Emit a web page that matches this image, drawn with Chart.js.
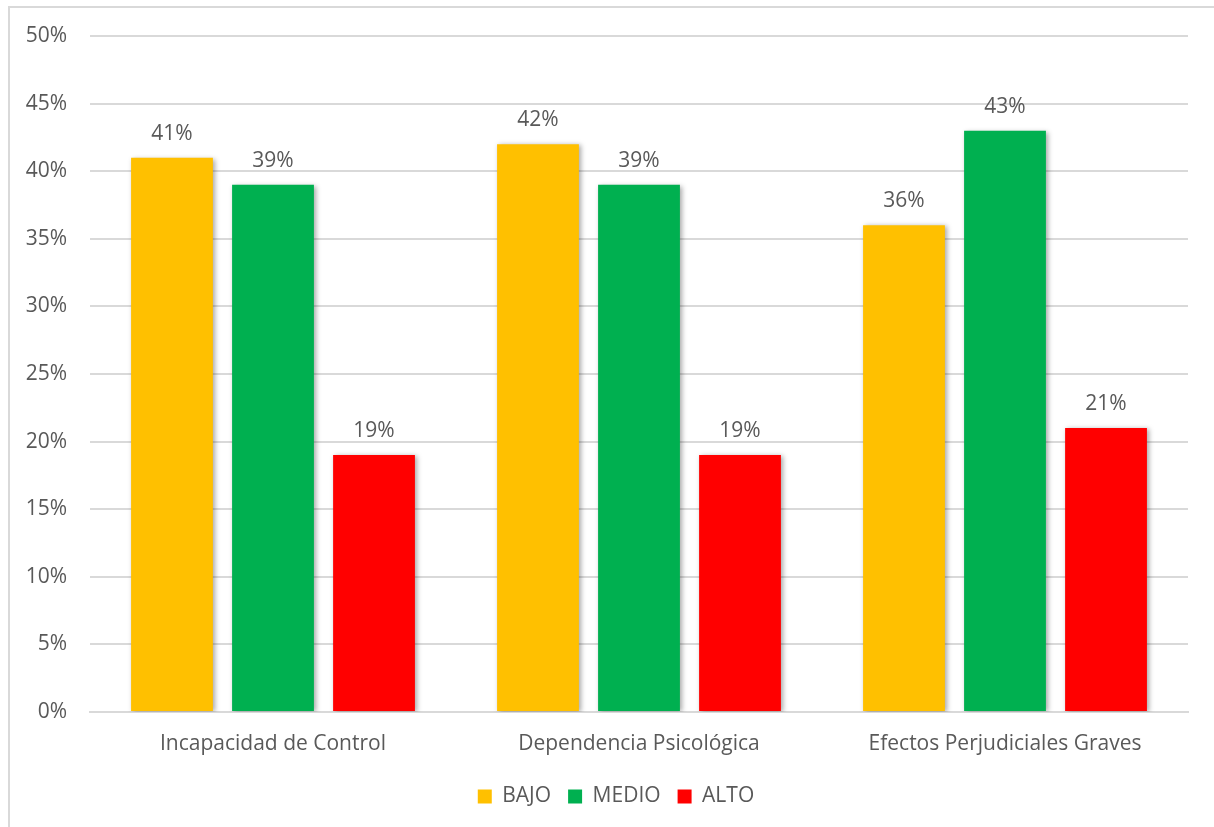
<!DOCTYPE html>
<html>
<head>
<meta charset="utf-8">
<script src="https://cdn.jsdelivr.net/npm/chart.js@4/dist/chart.umd.min.js"></script>
<style>
html,body{margin:0;padding:0;background:#fff;}
#wrap{width:1214px;height:827px;position:relative;}
</style>
</head>
<body>
<div id="wrap"><canvas id="c" width="1214" height="827"></canvas></div>
<script>
const categories = ["Incapacidad de Control", "Dependencia Psicológica", "Efectos Perjudiciales Graves"];
const seriesNames = ["BAJO", "MEDIO", "ALTO"];
const bajo = [41, 42, 36];
const medio = [39, 39, 43];
const alto = [19, 19, 21];
const yTicks = [0, 5, 10, 15, 20, 25, 30, 35, 40, 45, 50];

const TEXT = '#595959';
const FONT = '"Open Sans", Lato, sans-serif';
const FS = 21;

const borderPlugin = {
  id: 'frame',
  beforeDraw(chart) {
    const ctx = chart.ctx;
    ctx.save();
    ctx.fillStyle = '#fff';
    ctx.fillRect(0, 0, chart.width, chart.height);
    ctx.strokeStyle = '#d9d9d9';
    ctx.lineWidth = 2;
    ctx.strokeRect(9, 7, 1400, 1000);
    ctx.restore();
  },
  afterLayout(chart) {
    if (chart.legend) {
      chart.legend.left += 22;
      chart.legend.right += 22;
    }
  }
};

const shadowPlugin = {
  id: 'barShadow',
  beforeDatasetsDraw(chart) {
    const ctx = chart.ctx;
    ctx.save();
    ctx.shadowColor = 'rgba(0,0,0,0.35)';
    ctx.shadowBlur = 5;
    ctx.shadowOffsetX = 2;
    ctx.shadowOffsetY = 1;
  },
  afterDatasetsDraw(chart) {
    chart.ctx.restore();
  }
};

const labelPlugin = {
  id: 'valueLabels',
  afterDatasetsDraw(chart) {
    const ctx = chart.ctx;
    ctx.save();
    ctx.fillStyle = TEXT;
    ctx.font = FS + 'px ' + FONT;
    ctx.textAlign = 'center';
    ctx.textBaseline = 'middle';
    chart.data.datasets.forEach((ds, i) => {
      chart.getDatasetMeta(i).data.forEach((bar, j) => {
        ctx.fillText(ds.data[j] + '%', bar.x, bar.y - 24);
      });
    });
    ctx.restore();
  }
};

new Chart(document.getElementById('c'), {
  type: 'bar',
  data: {
    labels: categories,
    datasets: [
      { label: seriesNames[0], data: bajo, backgroundColor: '#FFC000' },
      { label: seriesNames[1], data: medio, backgroundColor: '#00B050' },
      { label: seriesNames[2], data: alto, backgroundColor: '#FF0000' }
    ]
  },
  options: {
    responsive: false,
    animation: false,
    devicePixelRatio: 1,
    layout: { padding: { left: 0, right: 26, top: 36, bottom: 10 } },
    datasets: { bar: { categoryPercentage: 0.828, barPercentage: 0.81 } },
    plugins: {
      legend: {
        position: 'bottom',
        labels: {
          color: TEXT,
          font: { family: FONT, size: FS },
          boxWidth: 14,
          boxHeight: 14,
          padding: 17
        }
      },
      tooltip: { enabled: false }
    },
    scales: {
      x: {
        grid: { display: false, drawTicks: false },
        border: { color: '#d9d9d9', width: 2 },
        ticks: { color: TEXT, font: { family: FONT, size: FS }, padding: 19 },
        afterFit(s) { s.height = 57; }
      },
      y: {
        min: 0, max: 50,
        afterBuildTicks(s) { s.ticks = yTicks.map(v => ({ value: v })); },
        grid: { color: '#d9d9d9', lineWidth: 2, drawTicks: false },
        border: { display: false },
        ticks: { color: TEXT, font: { family: FONT, size: FS }, padding: 23, callback: v => v + '%' },
        afterFit(s) { s.width = 90; }
      }
    }
  },
  plugins: [borderPlugin, shadowPlugin, labelPlugin]
});
</script>
</body>
</html>
